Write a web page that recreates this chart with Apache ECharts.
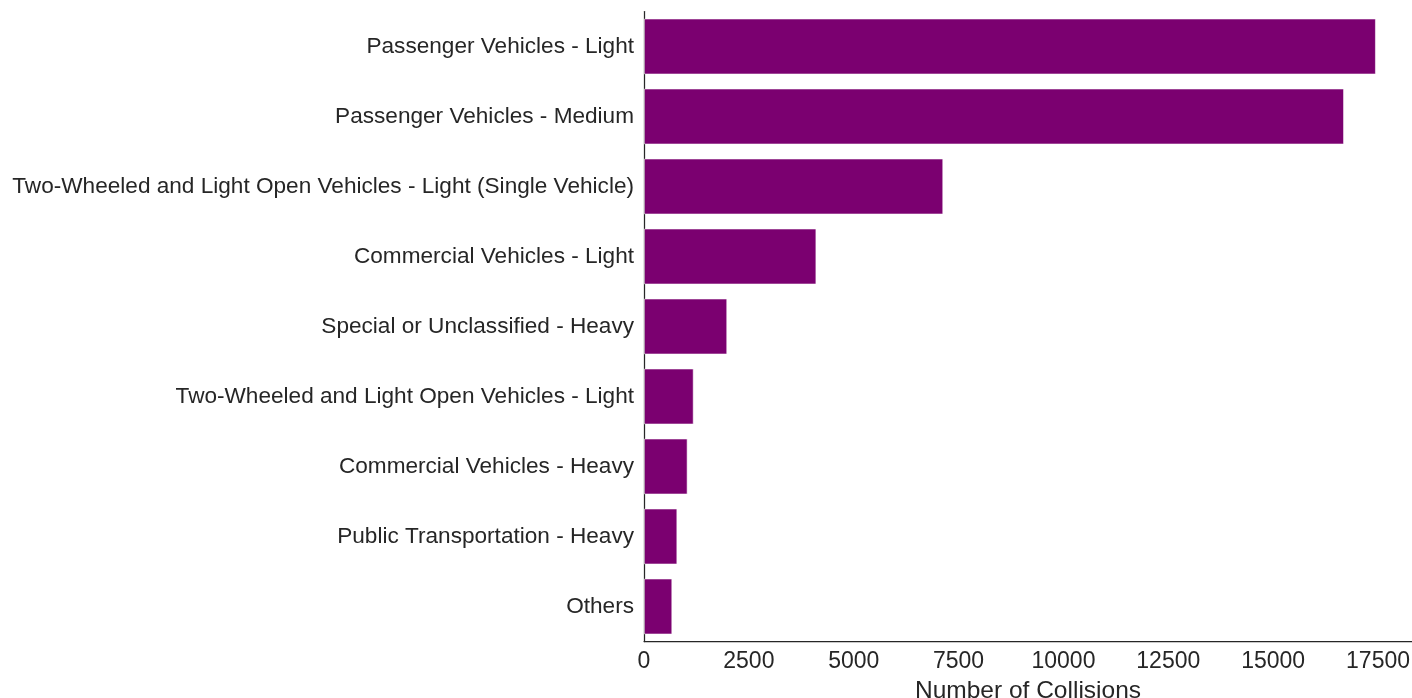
<!DOCTYPE html>
<html>
<head>
<meta charset="utf-8">
<script src="https://cdn.jsdelivr.net/npm/echarts@6/dist/echarts.min.js"></script>
<style>
html,body{margin:0;padding:0;background:#fff;}
#chart{width:1412px;height:698px;}
</style>
</head>
<body>
<div id="chart"></div>
<script>
const categories = [
  "Passenger Vehicles - Light",
  "Passenger Vehicles - Medium",
  "Two-Wheeled and Light Open Vehicles - Light (Single Vehicle)",
  "Commercial Vehicles - Light",
  "Special or Unclassified - Heavy",
  "Two-Wheeled and Light Open Vehicles - Light",
  "Commercial Vehicles - Heavy",
  "Public Transportation - Heavy",
  "Others"
];
const collisions = [17450, 16690, 7135, 4110, 1985, 1185, 1040, 795, 675];
const xTickInterval = 2500;
const xAxisTitle = "Number of Collisions";

const chart = echarts.init(document.getElementById('chart'), null, {renderer: 'canvas'});
const font = "'Liberation Sans', Arial, sans-serif";
chart.setOption({
  animation: false,
  backgroundColor: '#ffffff',
  grid: {left: 644, right: 0, top: 11.5, height: 630, containLabel: false, outerBoundsMode: 'none'},
  xAxis: {
    type: 'value',
    min: 0,
    max: 18310,
    interval: xTickInterval,
    name: xAxisTitle,
    nameLocation: 'middle',
    nameGap: 30,
    nameTextStyle: {fontFamily: font, fontSize: 24.5, color: '#262626'},
    axisLine: {show: true, lineStyle: {color: '#262626', width: 1.25}},
    axisTick: {show: false},
    splitLine: {show: false},
    axisLabel: {fontFamily: font, fontSize: 23, color: '#262626', margin: 9,
      formatter: function (v) { return String(v); }}
  },
  yAxis: {
    type: 'category',
    data: categories,
    inverse: true,
    axisLine: {show: true, lineStyle: {color: '#262626', width: 1.25}},
    axisTick: {show: false},
    splitLine: {show: false},
    axisLabel: {fontFamily: font, fontSize: 22.6, color: '#262626', margin: 10}
  },
  series: [{
    type: 'bar',
    data: collisions,
    barCategoryGap: '20%',
    itemStyle: {color: '#7b0070', borderColor: 'rgba(255,255,255,0.55)', borderWidth: 1}
  }]
});
</script>
</body>
</html>
